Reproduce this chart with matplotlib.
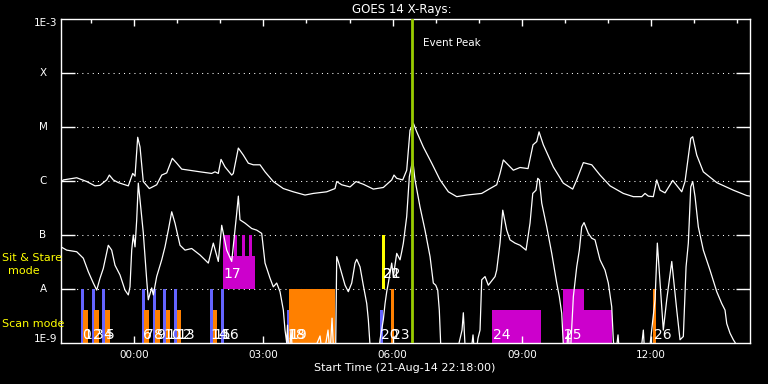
import numpy as np
import matplotlib
matplotlib.use("Agg")
import matplotlib.pyplot as plt
import matplotlib.transforms as mtransforms
from matplotlib.ticker import NullLocator

# ---------------- data ----------------
title_text = "GOES 14 X-Rays:"
xlabel_text = "Start Time (21-Aug-14 22:18:00)"
duration_h = 16.0                       # hours shown after the start time
event_peak_h = 8.145                    # hours after start (06:27)

# GOES long channel (1-8 A): hours after start, log10 flux (W/m^2)
long_t = [0.000, 0.053, 0.365, 0.597, 0.790, 0.906, 1.061, 1.122, 1.215, 1.331,
          1.563, 1.665, 1.719, 1.781, 1.835, 1.911, 2.051, 2.222, 2.339, 2.455,
          2.585, 2.687, 2.803, 3.228, 3.500, 3.576, 3.653, 3.716, 3.809, 3.964,
          4.001, 4.118, 4.234, 4.350, 4.466, 4.622, 4.738, 4.930, 5.163, 5.395,
          5.667, 5.859, 6.170, 6.363, 6.403, 6.519, 6.712, 6.851, 7.020, 7.253,
          7.485, 7.680, 7.733, 7.796, 7.935, 8.028, 8.105, 8.182, 8.261, 8.414,
          8.609, 8.802, 8.995, 9.190, 9.422, 9.770, 9.963, 10.118, 10.195, 10.272,
          10.504, 10.660, 10.845, 10.961, 11.047, 11.101, 11.201, 11.433, 11.665, 11.883,
          11.976, 12.130, 12.325, 12.517, 12.750, 13.058, 13.291, 13.486, 13.562, 13.639,
          13.755, 13.834, 13.911, 14.027, 14.206, 14.415, 14.491, 14.624, 14.670, 14.763,
          14.916, 15.228, 15.613, 15.925, 16.000]
long_log = [-6.03, -5.98, -5.94, -6.01, -6.09, -6.08, -5.98, -5.89, -5.98, -6.03,
            -6.09, -5.86, -5.91, -5.19, -5.37, -6.01, -6.14, -6.07, -5.89, -5.85,
            -5.58, -5.67, -5.78, -5.83, -5.86, -5.83, -5.86, -5.60, -5.74, -5.89,
            -5.86, -5.39, -5.52, -5.67, -5.70, -5.70, -5.83, -6.01, -6.14, -6.20,
            -6.26, -6.23, -6.20, -6.14, -6.01, -6.07, -6.11, -6.01, -6.06, -6.15,
            -6.12, -5.98, -5.89, -5.95, -5.98, -5.80, -5.06, -4.93, -5.09, -5.37,
            -5.67, -5.98, -6.20, -6.29, -6.26, -6.23, -6.14, -6.07, -5.86, -5.61,
            -5.80, -5.75, -5.77, -5.33, -5.27, -5.09, -5.33, -5.74, -6.04, -6.15,
            -5.98, -5.66, -5.70, -5.89, -6.09, -6.23, -6.29, -6.29, -6.23, -6.28,
            -6.29, -5.98, -6.17, -6.22, -5.99, -6.20, -6.01, -5.21, -5.18, -5.52,
            -5.83, -6.03, -6.17, -6.27, -6.28]

# GOES short channel (0.5-4 A): hours after start, log10 flux (W/m^2)
short_t = [0.000, 0.132, 0.365, 0.518, 0.634, 0.750, 0.829, 0.906, 0.982, 1.098,
           1.177, 1.254, 1.370, 1.486, 1.563, 1.602, 1.642, 1.679, 1.719, 1.758,
           1.795, 1.835, 1.911, 1.990, 2.027, 2.106, 2.144, 2.222, 2.339, 2.415,
           2.492, 2.571, 2.647, 2.764, 2.880, 3.035, 3.228, 3.421, 3.537, 3.653,
           3.732, 3.848, 3.964, 4.080, 4.118, 4.157, 4.273, 4.429, 4.545, 4.661,
           4.738, 4.854, 4.930, 5.009, 5.086, 5.163, 5.202, 5.242, 5.260, 5.295,
           5.341, 5.388, 5.667, 5.783, 6.015, 6.085, 6.201, 6.247, 6.294, 6.340,
           6.375, 6.403, 6.440, 6.519, 6.596, 6.672, 6.751, 6.828, 6.867, 6.944,
           7.020, 7.100, 7.137, 7.176, 7.222, 7.362, 7.408, 7.485, 7.525, 7.564,
           7.601, 7.680, 7.717, 7.796, 7.873, 7.912, 7.950, 7.989, 8.028, 8.089,
           8.168, 8.221, 8.337, 8.453, 8.570, 8.646, 8.702, 8.748, 8.785, 8.818,
           8.848, 9.150, 9.313, 9.343, 9.382, 9.499, 9.568, 9.615, 9.684, 9.731,
           9.770, 9.847, 9.923, 10.079, 10.118, 10.195, 10.258, 10.351, 10.427, 10.543,
           10.660, 10.799, 10.892, 10.955, 11.031, 11.071, 11.108, 11.164, 11.280, 11.396,
           11.512, 11.572, 11.628, 11.665, 11.728, 11.774, 11.821, 11.898, 11.976, 12.037,
           12.092, 12.146, 12.246, 12.325, 12.401, 12.517, 12.633, 12.710, 12.789, 12.826,
           12.866, 12.935, 12.982, 13.446, 13.523, 13.562, 13.678, 13.795, 13.848, 13.911,
           13.987, 14.066, 14.183, 14.299, 14.375, 14.452, 14.515, 14.568, 14.624, 14.670,
           14.724, 14.800, 14.916, 15.071, 15.228, 15.344, 15.420, 15.460, 15.537, 15.613,
           15.692, 15.769, 16.000]
short_log = [-7.22, -7.28, -7.31, -7.43, -7.68, -7.89, -8.02, -7.80, -7.62, -7.19,
             -7.28, -7.56, -7.74, -8.02, -8.11, -7.96, -7.28, -7.00, -7.22, -6.72,
             -6.04, -6.35, -6.96, -7.83, -8.20, -7.98, -8.11, -7.77, -7.46, -7.22,
             -6.91, -6.57, -6.78, -7.19, -7.28, -7.25, -7.37, -7.52, -7.15, -7.49,
             -6.82, -7.28, -7.49, -6.60, -6.28, -6.72, -6.78, -6.88, -6.91, -6.97,
             -7.52, -7.80, -7.96, -7.89, -8.05, -8.39, -8.76, -9.00, -8.67, -9.32,
             -8.76, -9.32, -9.04, -9.32, -8.87, -9.32, -8.76, -9.22, -8.54, -9.32,
             -9.32, -7.40, -7.49, -7.71, -7.93, -8.05, -7.89, -7.52, -7.45, -7.59,
             -7.93, -8.27, -8.57, -9.04, -9.32, -9.32, -8.94, -8.57, -8.27, -8.05,
             -7.89, -7.52, -7.77, -7.34, -7.46, -7.31, -7.15, -6.91, -6.66, -5.92,
             -5.61, -5.98, -6.48, -6.91, -7.40, -7.89, -7.93, -8.02, -8.39, -9.04,
             -9.32, -9.32, -8.76, -8.44, -9.04, -9.32, -8.85, -9.32, -8.91, -8.76,
             -7.83, -7.77, -7.93, -7.77, -7.65, -7.15, -6.54, -6.91, -7.09, -7.15,
             -7.19, -7.28, -6.78, -6.23, -6.17, -5.95, -5.98, -6.41, -6.85, -7.34,
             -7.89, -8.14, -8.45, -9.04, -9.32, -8.76, -9.32, -8.14, -7.59, -7.28,
             -6.85, -6.77, -6.97, -7.06, -7.09, -7.46, -7.65, -7.89, -8.33, -8.94,
             -9.32, -8.85, -9.32, -9.32, -8.76, -9.32, -9.04, -8.20, -7.15, -7.89,
             -8.76, -8.20, -7.49, -8.39, -8.94, -8.88, -7.59, -7.15, -6.11, -6.01,
             -6.29, -6.85, -7.28, -7.65, -8.05, -8.27, -8.39, -8.64, -8.82, -8.94,
             -9.04, -9.32, -9.32]

class_names = ["X", "M", "C", "B", "A"]
class_levels = [1e-4, 1e-5, 1e-6, 1e-7, 1e-8]

tick_labels = ["00:00", "03:00", "06:00", "09:00", "12:00"]
tick_hours = [1.7, 4.7, 7.7, 10.7, 13.7]
minor_hours = [0.7 + h for h in range(16)]

# observation blocks (hours after start, flux range, colour)
bar_start_h = [0.464, 0.511, 0.720, 0.766, 0.952, 1.022, 1.881, 1.928, 2.137, 2.183,
               2.369, 2.438, 2.624, 2.694, 3.460, 3.530, 3.716,
               3.762, 3.762, 4.018, 4.204, 4.366,
               5.242, 5.295, 7.408, 7.455, 7.455, 7.664, 10.009, 11.658, 12.146, 13.748]
bar_end_h = [0.534, 0.627, 0.790, 0.882, 1.022, 1.138, 1.951, 2.044, 2.206, 2.299,
             2.438, 2.531, 2.694, 2.787, 3.530, 3.623, 3.785,
             4.505, 3.925, 4.087, 4.262, 4.436,
             5.295, 6.363, 7.471, 7.517, 7.517, 7.733, 11.147, 12.146, 12.796, 13.825]
bar_low = [1e-9] * 17 + [1e-8, 4e-8, 4e-8, 4e-8, 4e-8] + \
          [1e-9, 1e-9, 1e-9, 1e-8, 1e-8, 1e-9, 1e-9, 1e-9, 1e-9, 1e-9]
bar_high = [1e-8, 4e-9, 1e-8, 4e-9, 1e-8, 4e-9, 1e-8, 4e-9, 1e-8, 4e-9,
            1e-8, 4e-9, 1e-8, 4e-9, 1e-8, 4e-9, 1e-8,
            4e-8, 1e-7, 1e-7, 1e-7, 1e-7,
            4e-9, 1e-8, 4e-9, 1e-7, 1e-7, 1e-8, 4e-9, 1e-8, 4e-9, 1e-8]
bar_color = ["blue", "orange"] * 7 + ["blue", "orange", "blue"] + ["magenta"] * 5 + \
            ["blue", "orange", "blue", "yellow", "yellow", "orange",
             "magenta", "magenta", "magenta", "orange"]

label_text = [str(i) for i in range(27)]
label_h = [0.464, 0.511, 0.720, 0.766, 0.952, 1.022, 1.881, 1.928, 2.137, 2.183,
           2.369, 2.438, 2.624, 2.694, 3.460, 3.530, 3.716, 3.762, 5.242, 5.295,
           7.408, 7.455, 7.455, 7.664, 10.009, 11.658, 13.748]
label_row = ["scan"] * 17 + ["sit"] + ["scan"] * 3 + ["sit", "sit"] + ["scan"] * 4

palette = {"blue": "#6464ff", "orange": "#ff8000", "magenta": "#cc00cc",
           "yellow": "#ffff00"}

assert len(long_t) == len(long_log)
assert len(short_t) == len(short_log)

# ---------------- figure ----------------
W, H = 768, 384
fig = plt.figure(figsize=(W / 100, H / 100), dpi=100, facecolor="black")


def px(x, y):
    return x / W, 1 - y / H


L, R, T, B = 61, 750, 19, 343
ax = fig.add_axes([L / W, (H - B) / H, (R - L) / W, (B - T) / H])
ax.set_facecolor("black")
ax.set_yscale("log")
ax.set_xlim(0, duration_h)
ax.set_ylim(1e-9, 1e-3)

for s in ax.spines.values():
    s.set_color("white")
    s.set_linewidth(1.0)

# grid lines at the flare classes
for lvl in class_levels:
    ax.axhline(lvl, color="white", lw=0.75, ls=(0, (1, 4)), zorder=0.5)

# observation blocks
for s0, s1, lo, hi, c in zip(bar_start_h, bar_end_h, bar_low, bar_high, bar_color):
    ax.bar(s0, hi - lo, width=s1 - s0, bottom=lo, align="edge",
           color=palette[c], linewidth=0, zorder=1)

# GOES curves
ax.plot(long_t, 10 ** np.array(long_log), color="white", lw=0.9, zorder=3)
ax.plot(short_t, 10 ** np.array(short_log), color="white", lw=0.9, zorder=3)

# event peak
ax.axvline(event_peak_h, color="#99cc00", lw=2.0, zorder=4)
ax.text(event_peak_h + 0.26, 3.6e-4, "Event Peak", color="white", fontsize=7.5,
        ha="left", va="center", zorder=5)

# observation numbers
for txt, h, row in zip(label_text, label_h, label_row):
    yv = 1.18e-9 if row == "scan" else 1.6e-8
    ax.text(h + 0.02, yv, txt, color="white", fontsize=10, ha="left",
            va="baseline", zorder=6)

# y ticks
ax.set_yticks(class_levels)
ax.yaxis.set_minor_locator(NullLocator())
ax.tick_params(axis="y", which="major", direction="in", length=10, width=1.0,
               color="white", left=True, right=True, labelleft=False, labelright=False)

# x ticks
ax.set_xticks(tick_hours, tick_labels)
ax.set_xticks(minor_hours, minor=True)
ax.tick_params(axis="x", which="major", direction="in", length=5, width=1.0,
               color="white", labelcolor="white", top=True, bottom=True,
               labelsize=7.5, pad=5)
ax.tick_params(axis="x", which="minor", direction="in", length=3, width=1.0,
               color="white", top=True, bottom=False)

# y tick labels
ytr = mtransforms.blended_transform_factory(ax.transAxes, ax.transData)
for name, lvl in zip(class_names, class_levels):
    ax.text((43 - L) / (R - L), lvl, name, transform=ytr, color="white",
            fontsize=7.5, ha="center", va="center")
ax.text((57 - L) / (R - L), 10 ** (-3.07), "1E-3", transform=ytr, color="white",
        fontsize=7.5, ha="right", va="center")
ax.text((57 - L) / (R - L), 10 ** (-8.93), "1E-9", transform=ytr, color="white",
        fontsize=7.5, ha="right", va="center")

# side labels
fig.text(*px(2, 258), "Sit & Stare", color="#ffff00", fontsize=8, ha="left", va="center")
fig.text(*px(24, 271), "mode", color="#ffff00", fontsize=8, ha="center", va="center")
fig.text(*px(2, 324), "Scan mode", color="#ffff00", fontsize=8, ha="left", va="center")

# title & axis label
fig.text(*px(402, 10), title_text, color="white", fontsize=8.5, ha="center", va="center")
fig.text(*px(405, 368), xlabel_text, color="white", fontsize=8, ha="center", va="center")

fig.savefig("out.png", dpi=100, facecolor="black")
